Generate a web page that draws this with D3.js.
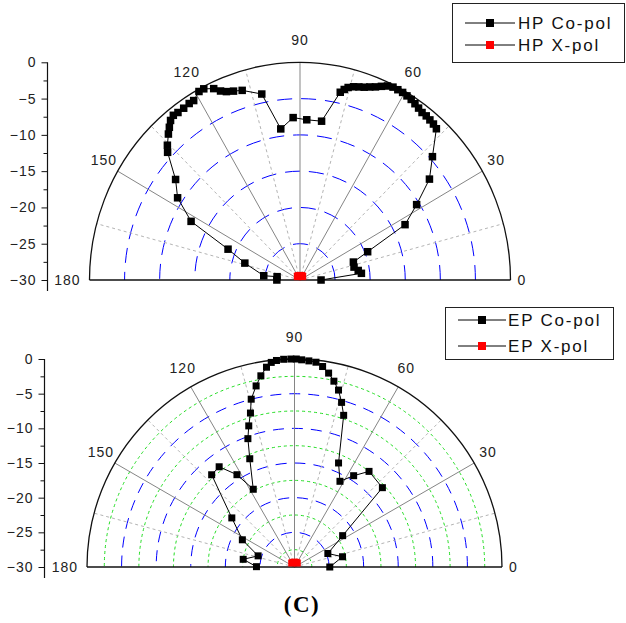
<!DOCTYPE html>
<html><head><meta charset="utf-8">
<script src="https://cdnjs.cloudflare.com/ajax/libs/d3/7.8.5/d3.min.js"></script>
<style>
body{margin:0;background:#fff;}
svg{display:block;}
</style>
</head><body>
<svg id="c" width="626" height="623" font-family="'Liberation Sans', Arial, sans-serif"></svg>
<script>
// ---- data ----
const angleLabels = [0, 30, 60, 90, 120, 150, 180];
const gridAnglesMajor = [30, 60, 90, 120, 150];
const gridAnglesMinor = [15, 45, 75, 105, 135, 165];
const radialTicks = [0, -5, -10, -15, -20, -25, -30];
const radialMinorTicks = [-2.5, -7.5, -12.5, -17.5, -22.5, -27.5];
const blueRings = [-5, -10, -15, -20, -25];
const greenRings = [-2.5, -7.5, -12.5, -17.5, -22.5, -27.5];

const hpAngles = [0, 6, 9, 13, 18, 22, 27, 32, 37, 42, 47, 48.5, 50, 51.5, 53, 54.5, 56, 57.5, 59, 60.5,
  62, 63.5, 65, 66.5, 68, 69.5, 71, 72.5, 74, 75.5, 76.5, 77.5, 82, 87.5, 92.5, 97.5, 102, 107.5, 110, 112,
  113.5, 115, 117.5, 119, 121.5, 123, 125, 127, 128.5, 130, 131.5, 133, 135.5, 137, 142, 147, 152.5, 157.5,
  163.5, 173.5, 172, 180];
const hpCoPol = [-27.0, -21.2, -21.6, -22.1, -22.0, -19.6, -13.2, -10.4, -6.9, -4.6, -1.5, -1.3, -1.2, -1.1, -1.1, -0.9, -0.7, -0.5, -0.4, -0.3,
  -0.3, -0.3, -0.5, -0.9, -1.3, -1.6, -1.9, -2.1, -2.3, -2.6, -3.0, -3.5, -7.9, -7.9, -7.6, -9.0, -3.8, -2.6, -2.3, -2.0,
  -1.6, -0.9, -0.3, -0.3, -1.0, -1.0, -1.1, -1.1, -1.0, -1.3, -1.9, -2.5, -3.5, -4.2, -7.5, -9.2, -12.5, -18.9,
  -21.8, -24.8, -26.7, -26.7];
const hpXAngles = [55, 70, 90, 110, 125];
const hpXPol = [-29.4, -29.4, -29.4, -29.4, -29.4];

const epAngles = [0, 12, 22, 33, 42, 52, 57, 62, 67, 72, 74, 76, 78, 80, 82, 84, 86, 88, 89.5, 91,
  93, 95, 96.5, 98, 100, 102, 104.5, 106, 108, 110, 112.5, 118, 122, 127, 132, 142, 152.5, 163, 171.5, 179.5];
const epCoPol = [-24.9, -22.9, -24.8, -21.7, -12.9, -12.5, -14.3, -16.0, -13.7, -7.0, -5.3, -3.7, -2.6, -1.6, -0.8, -0.3, -0.2, -0.1, 0, 0,
  0, -0.1, -0.3, -0.9, -2.0, -3.3, -5.0, -6.9, -8.6, -10.3, -13.1, -17.3, -14.3, -11.9, -12.1, -18.5, -21.5, -24.5, -22.5, -24.5];
const epXAngles = [55, 70, 90, 110, 125];
const epXPol = [-29.3, -29.3, -29.3, -29.3, -29.3];

const hpLegend = ["HP Co-pol", "HP X-pol"];
const epLegend = ["EP Co-pol", "EP X-pol"];
const seriesColors = ["#000000", "#ff0000"];
const caption = "(C)";

// ---- drawing ----
const svg = d3.select("#c");

function panel(o) {
  const g = svg.append("g");
  const r = d3.scaleLinear().domain([-30, 0]).range([0, 1]);
  const theta = d3.scaleLinear().domain([0, 180]).range([0, Math.PI]);
  const px = (a, v) => o.cx + o.rx * r(v) * Math.cos(theta(a));
  const py = (a, v) => o.cy - o.ry * r(v) * Math.sin(theta(a));
  const ringPath = v => {
    const k = r(v);
    return `M${o.cx + o.rx * k},${o.cy} A${o.rx * k},${o.ry * k} 0 0 0 ${o.cx - o.rx * k},${o.cy}`;
  };

  if (o.green) {
    g.selectAll(".gr").data(greenRings).enter().append("path")
      .attr("d", ringPath).attr("fill", "none")
      .attr("stroke", "#22dd22").attr("stroke-width", 1).attr("stroke-dasharray", "3,3");
  }
  g.selectAll(".br").data(blueRings).enter().append("path")
    .attr("d", ringPath).attr("fill", "none")
    .attr("stroke", "#0000ff").attr("stroke-width", 1).attr("stroke-dasharray", o.blueDash);

  g.selectAll(".rm").data(gridAnglesMinor).enter().append("line")
    .attr("x1", o.cx).attr("y1", o.cy)
    .attr("x2", a => px(a, 0)).attr("y2", a => py(a, 0))
    .attr("stroke", "#b4b4b4").attr("stroke-width", 1).attr("stroke-dasharray", "3,3");
  g.selectAll(".rM").data(gridAnglesMajor).enter().append("line")
    .attr("x1", o.cx).attr("y1", o.cy)
    .attr("x2", a => px(a, 0)).attr("y2", a => py(a, 0))
    .attr("stroke", "#858585").attr("stroke-width", 1);

  g.append("path").attr("d", ringPath(0)).attr("fill", "none")
    .attr("stroke", "#111").attr("stroke-width", 1.3);
  g.append("line").attr("x1", px(180, 0)).attr("x2", px(0, 0))
    .attr("y1", o.cy).attr("y2", o.cy).attr("stroke", "#111").attr("stroke-width", 1.3);

  g.selectAll(".al").data(angleLabels).enter().append("text")
    .attr("x", a => a === 0 ? px(0, 0) + 7 : a === 180 ? px(180, 0) - 9 : o.cx + (o.rx + 16) * Math.cos(theta(a)))
    .attr("y", a => (a === 0 || a === 180) ? o.cy : o.cy - (o.ry + 22) * Math.sin(theta(a)))
    .attr("dy", "0.36em")
    .attr("text-anchor", a => a === 0 ? "start" : a === 180 ? "end" : "middle")
    .attr("font-size", 14).attr("letter-spacing", 1).attr("fill", "#222")
    .text(a => a);

  const yScale = d3.scaleLinear().domain([-30, 0]).range([o.cy, o.cy - o.ry]);
  const ax = g.append("g").attr("transform", `translate(${o.axisX},0)`);
  ax.call(d3.axisLeft(yScale).tickValues(radialTicks).tickSize(6).tickSizeOuter(0).tickPadding(5).tickFormat(d3.format("d")));
  ax.select(".domain").remove();
  ax.attr("font-family", null);
  ax.selectAll("text").attr("font-size", 14).attr("letter-spacing", 1).attr("fill", "#222");
  ax.selectAll("line").attr("stroke", "#111");
  const axm = g.append("g").attr("transform", `translate(${o.axisX},0)`);
  axm.call(d3.axisLeft(yScale).tickValues(radialMinorTicks).tickSize(4).tickSizeOuter(0).tickFormat(""));
  axm.select(".domain").remove();
  axm.selectAll("line").attr("stroke", "#111");
  g.append("line").attr("x1", o.axisX).attr("x2", o.axisX)
    .attr("y1", yScale(0)).attr("y2", yScale(-30) + 11).attr("stroke", "#111").attr("stroke-width", 1.2);

  const co = o.angles.map((a, i) => [a, o.co[i]]);
  const line = d3.line().x(d => px(d[0], d[1])).y(d => py(d[0], d[1]));
  g.append("path").attr("d", line(co)).attr("fill", "none")
    .attr("stroke", "#000").attr("stroke-width", 1);
  const s = o.ms;
  g.selectAll(".m").data(co).enter().append("rect")
    .attr("x", d => px(d[0], d[1]) - s / 2).attr("y", d => py(d[0], d[1]) - s / 2)
    .attr("width", s).attr("height", s).attr("fill", seriesColors[0]);

  const xp = o.xAngles.map((a, i) => [a, o.x[i]]);
  g.append("path").attr("d", line(xp)).attr("fill", "none").attr("stroke", "#ff0000").attr("stroke-width", 1);
  g.selectAll(".x").data(xp).enter().append("rect")
    .attr("x", d => px(d[0], d[1]) - s / 2).attr("y", d => py(d[0], d[1]) - s / 2)
    .attr("width", s).attr("height", s).attr("fill", seriesColors[1]);

  const L = o.legend;
  const lg = g.append("g");
  lg.append("rect").attr("x", L.x).attr("y", L.y).attr("width", L.w).attr("height", L.h)
    .attr("fill", "#fff").attr("stroke", "#222").attr("stroke-width", 1);
  o.legendLabels.forEach((t, i) => {
    const yy = L.rows[i];
    lg.append("line").attr("x1", L.lx1).attr("x2", L.lx2).attr("y1", yy).attr("y2", yy)
      .attr("stroke", "#000").attr("stroke-width", 1);
    lg.append("rect").attr("x", (L.lx1 + L.lx2) / 2 - 4).attr("y", yy - 4).attr("width", 8).attr("height", 8)
      .attr("fill", seriesColors[i]);
    lg.append("text").attr("x", L.tx).attr("y", yy).attr("dy", "0.36em")
      .attr("font-size", 17).attr("letter-spacing", 1.8).attr("fill", "#111").text(t);
  });
}

panel({
  cx: 300, cy: 280, rx: 210.5, ry: 217.7, axisX: 47.5, blueDash: "15,9", green: false, ms: 7.5,
  angles: hpAngles, co: hpCoPol, xAngles: hpXAngles, x: hpXPol, legendLabels: hpLegend,
  legend: {x: 452.5, y: 3.5, w: 172, h: 59, rows: [23, 45], lx1: 465, lx2: 515, tx: 518}
});
panel({
  cx: 294.5, cy: 567, rx: 207.5, ry: 208, axisX: 44.5, blueDash: "11,8", green: true, ms: 7,
  angles: epAngles, co: epCoPol, xAngles: epXAngles, x: epXPol, legendLabels: epLegend,
  legend: {x: 445.5, y: 307.5, w: 168, h: 52, rows: [320, 346], lx1: 458, lx2: 506, tx: 508}
});

svg.append("text").attr("x", 302).attr("y", 612).attr("text-anchor", "middle")
  .style("font-family", "'Liberation Serif', 'Times New Roman', serif").attr("font-size", 23)
  .attr("font-weight", "bold").attr("letter-spacing", 1.5).attr("fill", "#000").text(caption);
</script>
</body></html>
